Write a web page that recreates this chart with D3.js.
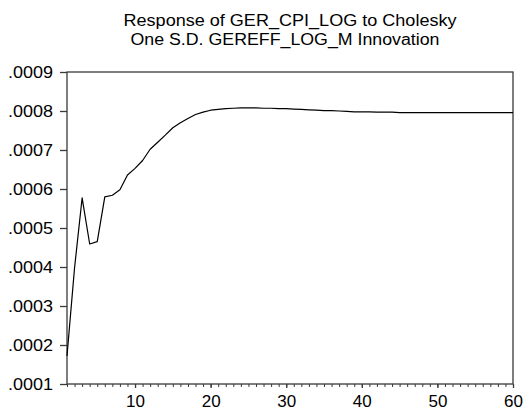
<!DOCTYPE html>
<html>
<head>
<meta charset="utf-8">
<script src="https://cdn.jsdelivr.net/npm/d3@7"></script>
<style>
  html, body { margin: 0; padding: 0; background: #fff; }
  svg { display: block; }
  text { font-family: "Liberation Sans", Arial, sans-serif; fill: #000; }
</style>
</head>
<body>
<svg id="chart" width="524" height="411"></svg>
<script>
const titleLines = ["Response of GER_CPI_LOG to Cholesky", "One S.D. GEREFF_LOG_M Innovation"];
const periods = d3.range(1, 61);
const response = [
  0.000172, 0.000398, 0.000577, 0.000459, 0.000465, 0.000580, 0.000584, 0.000598, 0.000636, 0.000653,
  0.000673, 0.000702, 0.000720, 0.000738, 0.000757, 0.000770, 0.000781, 0.000791, 0.000797, 0.000802,
  0.000804, 0.000806, 0.000807, 0.000808, 0.000808, 0.000808, 0.000807, 0.000807, 0.000806, 0.000806,
  0.000805, 0.000804, 0.000803, 0.000802, 0.000801, 0.000801, 0.000800, 0.000799, 0.000798, 0.000798,
  0.000798, 0.000797, 0.000797, 0.000797, 0.000796, 0.000796, 0.000796, 0.000796, 0.000796, 0.000796,
  0.000796, 0.000796, 0.000796, 0.000796, 0.000796, 0.000796, 0.000796, 0.000796, 0.000796, 0.000796
];
const yTicks = [0.0001, 0.0002, 0.0003, 0.0004, 0.0005, 0.0006, 0.0007, 0.0008, 0.0009];
const xTicks = [10, 20, 30, 40, 50, 60];

const svg = d3.select("#chart");
const pL = 67, pR = 513, pT = 72, pB = 384;

const x = d3.scaleLinear().domain([1, 60]).range([pL, pR]);
const y = d3.scaleLinear().domain([0.0001, 0.0009]).range([pB, pT]);

const frameColor = "#3a3a3a";
const fontFam = "Liberation Sans, Arial, sans-serif";

// title
const titleStart = [123.5, 130.5];
const titleWidth = [333, 309];
svg.append("g").selectAll("text").data(titleLines).join("text")
  .attr("x", (d, i) => titleStart[i])
  .attr("y", (d, i) => 26 + i * 18.6)
  .attr("font-size", "16px")
  .attr("textLength", (d, i) => titleWidth[i])
  .attr("lengthAdjust", "spacingAndGlyphs")
  .text(d => d);

// frame
svg.append("rect")
  .attr("x", pL).attr("y", pT)
  .attr("width", pR - pL).attr("height", pB - pT)
  .attr("fill", "none").attr("stroke", frameColor).attr("stroke-width", 1.3);

// y axis
const yAxis = d3.axisLeft(y).tickValues(yTicks).tickSize(7).tickPadding(7)
  .tickFormat(d => d3.format(".4f")(d).replace(/^0/, ""));
const gy = svg.append("g").attr("transform", `translate(${pL},0)`).call(yAxis);
gy.select(".domain").remove();
gy.selectAll(".tick line").attr("stroke", frameColor).attr("stroke-width", 1.3);
gy.selectAll(".tick text").attr("font-size", "17px").attr("font-family", fontFam)
  .attr("textLength", 45).attr("lengthAdjust", "spacingAndGlyphs");

// x axis minor ticks
const gxm = svg.append("g").attr("transform", `translate(0,${pB})`)
  .call(d3.axisBottom(x).tickValues(periods).tickSize(3).tickFormat(""));
gxm.select(".domain").remove();
gxm.selectAll(".tick line").attr("stroke", frameColor).attr("stroke-width", 1);

// x axis major labels
const gx = svg.append("g").attr("transform", `translate(0,${pB})`)
  .call(d3.axisBottom(x).tickValues(xTicks).tickSize(4).tickPadding(7));
gx.select(".domain").remove();
gx.selectAll(".tick line").attr("stroke", frameColor).attr("stroke-width", 1.3);
gx.selectAll(".tick text").attr("font-size", "17px").attr("font-family", fontFam);

// line
const line = d3.line().x((d, i) => x(periods[i])).y(d => y(d));
svg.append("path")
  .datum(response)
  .attr("d", line)
  .attr("fill", "none")
  .attr("stroke", "#000")
  .attr("stroke-width", 1.2)
  .attr("stroke-linejoin", "round");
</script>
</body>
</html>
